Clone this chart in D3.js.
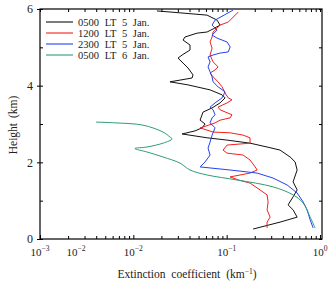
<!DOCTYPE html>
<html>
<head>
<meta charset="utf-8">
<script src="https://cdn.jsdelivr.net/npm/d3@7"></script>
<style>
  body { margin: 0; background: #fff; }
</style>
</head>
<body>
<div id="container"></div>
<script>
/* CONSTANTS AND GLOBALS */
const width = 334,
  height = 285,
  margin = { top: 9, bottom: 46, left: 40, right: 12 };

// profiles: [height km, extinction km^-1] from top to bottom
const black0500 = [
  [5.95, 0.0179], [5.90, 0.0316], [5.84, 0.0617], [5.71, 0.0789], [5.58, 0.0850],
  [5.48, 0.0715], [5.40, 0.0617], [5.37, 0.0482], [5.27, 0.0358], [5.19, 0.0341],
  [5.06, 0.0405], [4.93, 0.0405], [4.80, 0.0333], [4.72, 0.0301], [4.59, 0.0341],
  [4.46, 0.0386], [4.28, 0.0436], [4.20, 0.0426], [4.10, 0.0247], [4.02, 0.0386],
  [3.89, 0.0664], [3.76, 0.0893], [3.68, 0.0961], [3.55, 0.0850], [3.42, 0.0698],
  [3.31, 0.0558], [3.10, 0.0519], [3.00, 0.0587], [2.90, 0.0545], [2.82, 0.0458],
  [2.74, 0.0333], [2.64, 0.0617], [2.58, 0.101], [2.50, 0.178], [2.40, 0.271],
  [2.32, 0.373], [2.14, 0.478], [2.01, 0.541], [1.80, 0.569], [1.49, 0.515],
  [1.28, 0.569], [1.10, 0.515], [0.89, 0.455], [0.76, 0.515], [0.57, 0.569],
  [0.44, 0.373], [0.26, 0.192]
];
const red1200 = [
  [5.92, 0.133], [5.66, 0.104], [5.58, 0.0850], [5.50, 0.0789], [5.40, 0.0715],
  [5.27, 0.0698], [5.14, 0.0664], [4.98, 0.0698], [4.80, 0.0664], [4.62, 0.0715],
  [4.49, 0.0809], [4.41, 0.0751], [4.33, 0.0664], [4.23, 0.0715], [4.10, 0.0809],
  [3.97, 0.0893], [3.81, 0.0961], [3.68, 0.104], [3.63, 0.114], [3.55, 0.101],
  [3.44, 0.0809], [3.37, 0.0850], [3.24, 0.114], [3.16, 0.109], [3.10, 0.0850],
  [3.03, 0.0751], [2.92, 0.0558], [2.90, 0.0519], [2.79, 0.0715], [2.77, 0.109],
  [2.71, 0.150], [2.64, 0.178], [2.50, 0.178], [2.45, 0.101], [2.32, 0.0915],
  [2.24, 0.101], [2.19, 0.150], [2.06, 0.178], [1.88, 0.202], [1.80, 0.212],
  [1.72, 0.178], [1.62, 0.109], [1.54, 0.133], [1.46, 0.178], [1.28, 0.228],
  [1.15, 0.271], [0.97, 0.278], [0.76, 0.271], [0.57, 0.292], [0.44, 0.271],
  [0.29, 0.271]
];
const blue2300 = [
  [5.97, 0.117], [5.71, 0.0751], [5.58, 0.0698], [5.45, 0.0789], [5.32, 0.0698],
  [5.24, 0.0789], [5.14, 0.101], [5.01, 0.109], [4.88, 0.104], [4.85, 0.0850],
  [4.80, 0.0715], [4.75, 0.0632], [4.62, 0.0664], [4.49, 0.0632], [4.36, 0.0664],
  [4.23, 0.0698], [4.10, 0.0715], [3.97, 0.0809], [3.84, 0.0961], [3.68, 0.0893],
  [3.55, 0.0751], [3.44, 0.0664], [3.37, 0.0715], [3.24, 0.0751], [3.16, 0.0698],
  [3.03, 0.0664], [2.90, 0.0751], [2.71, 0.0698], [2.53, 0.0664], [2.37, 0.0632],
  [2.19, 0.0664], [2.01, 0.0587], [1.88, 0.0519], [1.80, 0.109], [1.72, 0.212],
  [1.59, 0.314], [1.41, 0.444], [1.20, 0.569], [0.97, 0.659], [0.76, 0.728],
  [0.50, 0.784], [0.29, 0.844]
];
const green0500 = [
  [3.05, 0.00398], [3.03, 0.00637], [2.97, 0.0127], [2.79, 0.0208], [2.66, 0.0247],
  [2.61, 0.0260], [2.50, 0.0208], [2.40, 0.0140], [2.36, 0.0104], [2.27, 0.0140],
  [2.14, 0.0208], [1.98, 0.0316], [1.80, 0.0405], [1.67, 0.0617], [1.54, 0.129],
  [1.36, 0.314], [1.15, 0.515], [0.94, 0.659], [0.57, 0.784], [0.29, 0.886]
];

const seriesNames = ["0500 LT 5 Jan.", "1200 LT 5 Jan.", "2300 LT 5 Jan.", "0500 LT 6 Jan."];
const seriesColors = ["#111111", "#f2201e", "#2342f0", "#2f9c7c"];
const seriesData = [black0500, red1200, blue2300, green0500];

const yTicks = [0, 2, 4, 6];
const xLabelValues = [1e-3, 2.43e-3, 1e-2, 1e-1, 1]; // the original carries a stray second "10-2"
const xLabelExps = ["\u22123", "\u22122", "\u22122", "\u22121", "0"];

const serif = '"Liberation Serif", "Times New Roman", serif';

/* SCALES */
const xScale = d3.scaleLog()
  .domain([1e-3, 1])
  .range([margin.left, 320]);

const yScale = d3.scaleLinear()
  .domain([0, 6])
  .range([height - margin.bottom, margin.top]);

const x0 = margin.left, x1 = width - margin.right,
  yb = height - margin.bottom, yt = margin.top;

/* SVG */
const svg = d3.select("#container")
  .append("svg")
  .attr("width", width)
  .attr("height", height);

// minor/major ticks along bottom and top (inward)
const logTicks = xScale.ticks();
const isDecade = d => Math.abs(Math.log10(d) - Math.round(Math.log10(d))) < 1e-6;

svg.append("g")
  .attr("transform", `translate(0, ${yb})`)
  .call(d3.axisTop(xScale).tickValues(logTicks).tickSize(3).tickFormat(""))
  .call(g => g.select(".domain").remove())
  .call(g => g.selectAll(".tick line").attr("y2", d => isDecade(d) ? -4 : -3));

svg.append("g")
  .attr("transform", `translate(0, ${yt})`)
  .call(d3.axisBottom(xScale).tickValues(logTicks).tickSize(3).tickFormat(""))
  .call(g => g.select(".domain").remove());

// x labels 10^n
const xl = svg.append("g");
xl.selectAll("text")
  .data(xLabelValues)
  .join("text")
  .attr("x", d => xScale(d))
  .attr("y", 256)
  .attr("text-anchor", "middle")
  .style("font-size", "11px")
  .each(function (d, i) {
    const t = d3.select(this);
    t.append("tspan").text("10");
    t.append("tspan")
      .attr("dy", -5)
      .style("font-size", "7.5px")
      .text(xLabelExps[i]);
  });

// y axis left
svg.append("g")
  .attr("transform", `translate(${x0}, 0)`)
  .call(d3.axisLeft(yScale).tickValues(yTicks).tickFormat(d3.format("d")).tickSize(3).tickPadding(4))
  .call(g => g.select(".domain").remove())
  .call(g => g.selectAll(".tick line").attr("x2", -3).attr("x1", 3))
  .call(g => g.selectAll(".tick text").style("font-size", "12px"));

svg.append("g")
  .attr("transform", `translate(${x0}, 0)`)
  .call(d3.axisRight(yScale).tickValues([1, 3, 5]).tickSize(3).tickFormat(""))
  .call(g => g.select(".domain").remove());

// right side ticks (inward)
svg.append("g")
  .attr("transform", `translate(${x1}, 0)`)
  .call(d3.axisLeft(yScale).ticks(6).tickSize(3).tickFormat(""))
  .call(g => g.select(".domain").remove());

// frame
svg.append("rect")
  .attr("x", x0)
  .attr("y", yt)
  .attr("width", x1 - x0)
  .attr("height", yb - yt)
  .attr("fill", "none")
  .attr("stroke", "#000")
  .attr("stroke-width", 1.2);

// profiles
const line = d3.line()
  .x(d => xScale(d[1]))
  .y(d => yScale(d[0]));

svg.selectAll(".profile")
  .data(seriesData)
  .join("path")
  .attr("class", "profile")
  .attr("d", (d, i) => i === 3 ? line.curve(d3.curveCatmullRom)(d) : line.curve(d3.curveLinear)(d))
  .attr("fill", "none")
  .attr("stroke", (d, i) => seriesColors[i])
  .attr("stroke-width", 1);

// legend
const legend = svg.append("g");
legend.selectAll("line")
  .data(seriesNames)
  .join("line")
  .attr("x1", 46)
  .attr("x2", 73)
  .attr("y1", (d, i) => 22 + i * 11)
  .attr("y2", (d, i) => 22 + i * 11)
  .attr("stroke", (d, i) => seriesColors[i])
  .attr("stroke-width", 1.1);

legend.selectAll("text")
  .data(seriesNames)
  .join("text")
  .attr("x", 78)
  .attr("y", (d, i) => 25.5 + i * 11)
  .style("font-size", "10.5px")
  .style("word-spacing", "3px")
  .text(d => d);

// axis titles
svg.append("text")
  .attr("transform", `translate(17, 125) rotate(-90)`)
  .attr("text-anchor", "middle")
  .style("font-size", "11.5px")
  .style("word-spacing", "2px")
  .text("Height (km)");

const xt = svg.append("text")
  .attr("x", 187)
  .attr("y", 278)
  .attr("text-anchor", "middle")
  .style("font-size", "11.5px")
  .style("word-spacing", "3px");
xt.append("tspan").text("Extinction coefficient (km");
xt.append("tspan").attr("dy", -4).style("font-size", "7.5px").text("\u22121");
xt.append("tspan").attr("dy", 4).text(")");

// serif everywhere, like the original figure
svg.selectAll("text")
  .style("font-family", serif)
  .attr("fill", "#222");
</script>
</body>
</html>
